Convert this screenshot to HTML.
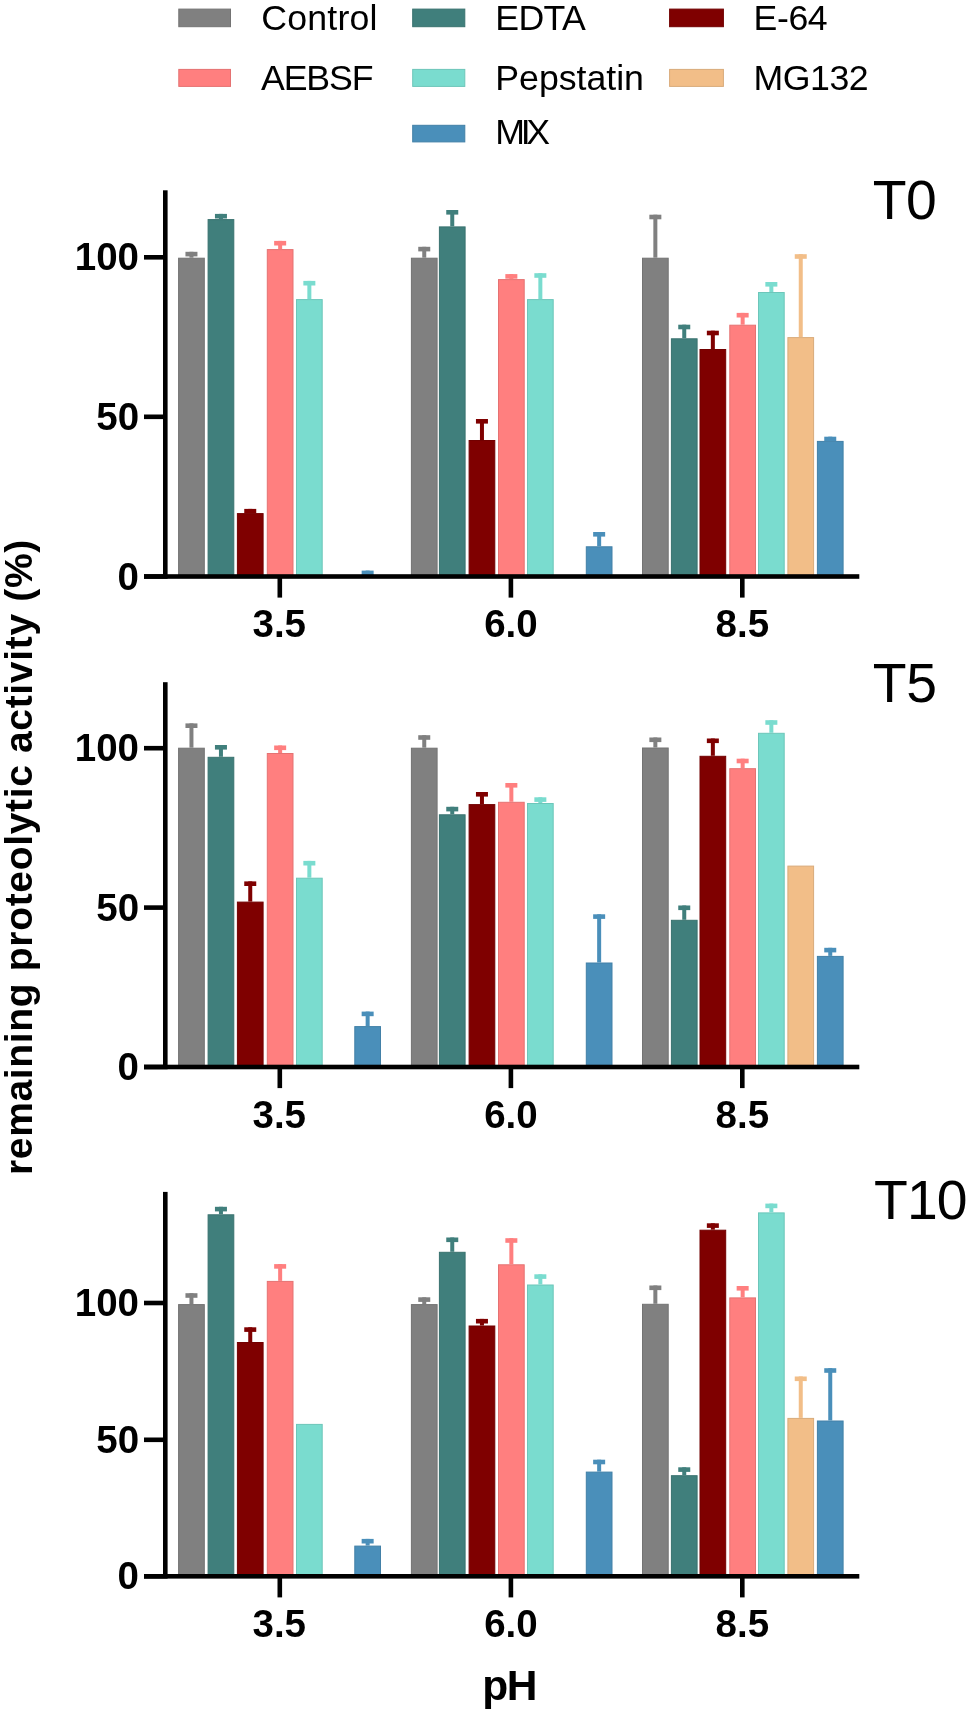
<!DOCTYPE html>
<html><head><meta charset="utf-8"><style>
html,body{margin:0;padding:0;background:#fff;}
body{width:968px;height:1713px;overflow:hidden;}
svg{display:block;will-change:transform;}
text{font-family:"Liberation Sans",sans-serif;fill:#000;}
</style></head><body>
<svg width="968" height="1713" viewBox="0 0 968 1713">
<rect x="178.6" y="258.2" width="25.7" height="318.8" fill="#808080" stroke="#737373" stroke-width="1"/>
<rect x="189.45" y="251.8" width="4" height="5.9" fill="#808080"/>
<rect x="185.45" y="251.8" width="12" height="4.6" fill="#808080"/>
<rect x="208.1" y="219.6" width="25.7" height="357.4" fill="#407f7c" stroke="#39726f" stroke-width="1"/>
<rect x="218.95" y="213.9" width="4" height="5.2" fill="#407f7c"/>
<rect x="214.95" y="213.9" width="12" height="4.6" fill="#407f7c"/>
<rect x="237.4" y="513.6" width="25.7" height="63.4" fill="#7f0000" stroke="#720000" stroke-width="1"/>
<rect x="248.25" y="508.9" width="4" height="4.2" fill="#7f0000"/>
<rect x="244.25" y="508.9" width="12" height="4.6" fill="#7f0000"/>
<rect x="267.3" y="249.6" width="25.7" height="327.4" fill="#ff7f7f" stroke="#e57272" stroke-width="1"/>
<rect x="278.15" y="240.9" width="4" height="8.2" fill="#ff7f7f"/>
<rect x="274.15" y="240.9" width="12" height="4.6" fill="#ff7f7f"/>
<rect x="296.5" y="299.6" width="25.7" height="277.4" fill="#7adccf" stroke="#6dc6ba" stroke-width="1"/>
<rect x="307.35" y="280.9" width="4" height="18.2" fill="#7adccf"/>
<rect x="303.35" y="280.9" width="12" height="4.6" fill="#7adccf"/>
<rect x="365.65" y="570.6" width="4" height="5.9" fill="#4a8fba"/>
<rect x="361.65" y="570.6" width="12" height="4.6" fill="#4a8fba"/>
<rect x="411.4" y="258.2" width="25.7" height="318.8" fill="#808080" stroke="#737373" stroke-width="1"/>
<rect x="422.25" y="246.8" width="4" height="10.9" fill="#808080"/>
<rect x="418.25" y="246.8" width="12" height="4.6" fill="#808080"/>
<rect x="439.4" y="226.9" width="25.7" height="350.1" fill="#407f7c" stroke="#39726f" stroke-width="1"/>
<rect x="450.25" y="210" width="4" height="16.4" fill="#407f7c"/>
<rect x="446.25" y="210" width="12" height="4.6" fill="#407f7c"/>
<rect x="469.1" y="440.5" width="25.7" height="136.5" fill="#7f0000" stroke="#720000" stroke-width="1"/>
<rect x="479.95" y="419" width="4" height="21" fill="#7f0000"/>
<rect x="475.95" y="419" width="12" height="4.6" fill="#7f0000"/>
<rect x="498.5" y="279.6" width="25.7" height="297.4" fill="#ff7f7f" stroke="#e57272" stroke-width="1"/>
<rect x="509.35" y="274.1" width="4" height="5" fill="#ff7f7f"/>
<rect x="505.35" y="274.1" width="12" height="4.6" fill="#ff7f7f"/>
<rect x="527.5" y="299.6" width="25.7" height="277.4" fill="#7adccf" stroke="#6dc6ba" stroke-width="1"/>
<rect x="538.35" y="273.2" width="4" height="25.9" fill="#7adccf"/>
<rect x="534.35" y="273.2" width="12" height="4.6" fill="#7adccf"/>
<rect x="586.3" y="546.8" width="25.7" height="30.2" fill="#4a8fba" stroke="#4280a7" stroke-width="1"/>
<rect x="597.15" y="532" width="4" height="14.3" fill="#4a8fba"/>
<rect x="593.15" y="532" width="12" height="4.6" fill="#4a8fba"/>
<rect x="642.5" y="258.2" width="25.7" height="318.8" fill="#808080" stroke="#737373" stroke-width="1"/>
<rect x="653.35" y="214.7" width="4" height="43" fill="#808080"/>
<rect x="649.35" y="214.7" width="12" height="4.6" fill="#808080"/>
<rect x="671.4" y="338.8" width="25.7" height="238.2" fill="#407f7c" stroke="#39726f" stroke-width="1"/>
<rect x="682.25" y="324.7" width="4" height="13.6" fill="#407f7c"/>
<rect x="678.25" y="324.7" width="12" height="4.6" fill="#407f7c"/>
<rect x="700" y="349.5" width="25.7" height="227.5" fill="#7f0000" stroke="#720000" stroke-width="1"/>
<rect x="710.85" y="330.7" width="4" height="18.3" fill="#7f0000"/>
<rect x="706.85" y="330.7" width="12" height="4.6" fill="#7f0000"/>
<rect x="729.8" y="325.2" width="25.7" height="251.8" fill="#ff7f7f" stroke="#e57272" stroke-width="1"/>
<rect x="740.65" y="312.9" width="4" height="11.8" fill="#ff7f7f"/>
<rect x="736.65" y="312.9" width="12" height="4.6" fill="#ff7f7f"/>
<rect x="758.5" y="292.5" width="25.7" height="284.5" fill="#7adccf" stroke="#6dc6ba" stroke-width="1"/>
<rect x="769.35" y="282" width="4" height="10" fill="#7adccf"/>
<rect x="765.35" y="282" width="12" height="4.6" fill="#7adccf"/>
<rect x="787.9" y="337.6" width="25.7" height="239.4" fill="#f2be88" stroke="#d9ab7a" stroke-width="1"/>
<rect x="798.75" y="254.2" width="4" height="82.9" fill="#f2be88"/>
<rect x="794.75" y="254.2" width="12" height="4.6" fill="#f2be88"/>
<rect x="817.4" y="441.4" width="25.7" height="135.6" fill="#4a8fba" stroke="#4280a7" stroke-width="1"/>
<rect x="828.25" y="436.7" width="4" height="4.2" fill="#4a8fba"/>
<rect x="824.25" y="436.7" width="12" height="4.6" fill="#4a8fba"/>
<rect x="163" y="190.3" width="4.6" height="388.5" fill="#000"/>
<rect x="144" y="574.2" width="715.3" height="4.6" fill="#000"/>
<rect x="144" y="255" width="19" height="4.6" fill="#000"/>
<text x="74.75" y="270.3" style="font-size:38.5px;font-weight:bold;">100</text>
<rect x="144" y="414.5" width="19" height="4.6" fill="#000"/>
<text x="96.25" y="429.8" style="font-size:38.5px;font-weight:bold;">50</text>
<rect x="144" y="574.2" width="19" height="4.6" fill="#000"/>
<text x="117.62" y="589.5" style="font-size:38.5px;font-weight:bold;">0</text>
<rect x="277.5" y="576.5" width="4.6" height="21.1" fill="#000"/>
<text x="252.51" y="637.1" style="font-size:38.5px;font-weight:bold;">3.5</text>
<rect x="508.6" y="576.5" width="4.6" height="21.1" fill="#000"/>
<text x="484.21" y="637.1" style="font-size:38.5px;font-weight:bold;">6.0</text>
<rect x="740" y="576.5" width="4.6" height="21.1" fill="#000"/>
<text x="715.62" y="637.1" style="font-size:38.5px;font-weight:bold;">8.5</text>
<text x="872.65" y="218.7" style="font-size:55.3px;letter-spacing:-0.325px;">T0</text>
<rect x="178.6" y="748.2" width="25.7" height="319.3" fill="#808080" stroke="#737373" stroke-width="1"/>
<rect x="189.45" y="723.4" width="4" height="24.3" fill="#808080"/>
<rect x="185.45" y="723.4" width="12" height="4.6" fill="#808080"/>
<rect x="208.1" y="757.3" width="25.7" height="310.2" fill="#407f7c" stroke="#39726f" stroke-width="1"/>
<rect x="218.95" y="745" width="4" height="11.8" fill="#407f7c"/>
<rect x="214.95" y="745" width="12" height="4.6" fill="#407f7c"/>
<rect x="237.4" y="902.1" width="25.7" height="165.4" fill="#7f0000" stroke="#720000" stroke-width="1"/>
<rect x="248.25" y="881.4" width="4" height="20.2" fill="#7f0000"/>
<rect x="244.25" y="881.4" width="12" height="4.6" fill="#7f0000"/>
<rect x="267.3" y="753.5" width="25.7" height="314" fill="#ff7f7f" stroke="#e57272" stroke-width="1"/>
<rect x="278.15" y="745.5" width="4" height="7.5" fill="#ff7f7f"/>
<rect x="274.15" y="745.5" width="12" height="4.6" fill="#ff7f7f"/>
<rect x="296.5" y="878.2" width="25.7" height="189.3" fill="#7adccf" stroke="#6dc6ba" stroke-width="1"/>
<rect x="307.35" y="860.9" width="4" height="16.8" fill="#7adccf"/>
<rect x="303.35" y="860.9" width="12" height="4.6" fill="#7adccf"/>
<rect x="354.8" y="1026.6" width="25.7" height="40.9" fill="#4a8fba" stroke="#4280a7" stroke-width="1"/>
<rect x="365.65" y="1011.6" width="4" height="14.5" fill="#4a8fba"/>
<rect x="361.65" y="1011.6" width="12" height="4.6" fill="#4a8fba"/>
<rect x="411.4" y="748.2" width="25.7" height="319.3" fill="#808080" stroke="#737373" stroke-width="1"/>
<rect x="422.25" y="735.2" width="4" height="12.5" fill="#808080"/>
<rect x="418.25" y="735.2" width="12" height="4.6" fill="#808080"/>
<rect x="439.4" y="814.8" width="25.7" height="252.7" fill="#407f7c" stroke="#39726f" stroke-width="1"/>
<rect x="450.25" y="806.8" width="4" height="7.5" fill="#407f7c"/>
<rect x="446.25" y="806.8" width="12" height="4.6" fill="#407f7c"/>
<rect x="469.1" y="804.6" width="25.7" height="262.9" fill="#7f0000" stroke="#720000" stroke-width="1"/>
<rect x="479.95" y="792" width="4" height="12.1" fill="#7f0000"/>
<rect x="475.95" y="792" width="12" height="4.6" fill="#7f0000"/>
<rect x="498.5" y="802.3" width="25.7" height="265.2" fill="#ff7f7f" stroke="#e57272" stroke-width="1"/>
<rect x="509.35" y="783" width="4" height="18.8" fill="#ff7f7f"/>
<rect x="505.35" y="783" width="12" height="4.6" fill="#ff7f7f"/>
<rect x="527.5" y="803.5" width="25.7" height="264" fill="#7adccf" stroke="#6dc6ba" stroke-width="1"/>
<rect x="538.35" y="797.3" width="4" height="5.7" fill="#7adccf"/>
<rect x="534.35" y="797.3" width="12" height="4.6" fill="#7adccf"/>
<rect x="586.3" y="963" width="25.7" height="104.5" fill="#4a8fba" stroke="#4280a7" stroke-width="1"/>
<rect x="597.15" y="914.3" width="4" height="48.2" fill="#4a8fba"/>
<rect x="593.15" y="914.3" width="12" height="4.6" fill="#4a8fba"/>
<rect x="642.5" y="748" width="25.7" height="319.5" fill="#808080" stroke="#737373" stroke-width="1"/>
<rect x="653.35" y="737.5" width="4" height="10" fill="#808080"/>
<rect x="649.35" y="737.5" width="12" height="4.6" fill="#808080"/>
<rect x="671.4" y="920.3" width="25.7" height="147.2" fill="#407f7c" stroke="#39726f" stroke-width="1"/>
<rect x="682.25" y="905.5" width="4" height="14.3" fill="#407f7c"/>
<rect x="678.25" y="905.5" width="12" height="4.6" fill="#407f7c"/>
<rect x="700" y="756.3" width="25.7" height="311.2" fill="#7f0000" stroke="#720000" stroke-width="1"/>
<rect x="710.85" y="738.5" width="4" height="17.3" fill="#7f0000"/>
<rect x="706.85" y="738.5" width="12" height="4.6" fill="#7f0000"/>
<rect x="729.8" y="768.7" width="25.7" height="298.8" fill="#ff7f7f" stroke="#e57272" stroke-width="1"/>
<rect x="740.65" y="758.7" width="4" height="9.5" fill="#ff7f7f"/>
<rect x="736.65" y="758.7" width="12" height="4.6" fill="#ff7f7f"/>
<rect x="758.5" y="733.3" width="25.7" height="334.2" fill="#7adccf" stroke="#6dc6ba" stroke-width="1"/>
<rect x="769.35" y="720.2" width="4" height="12.6" fill="#7adccf"/>
<rect x="765.35" y="720.2" width="12" height="4.6" fill="#7adccf"/>
<rect x="787.9" y="866.1" width="25.7" height="201.4" fill="#f2be88" stroke="#d9ab7a" stroke-width="1"/>
<rect x="817.4" y="956.4" width="25.7" height="111.1" fill="#4a8fba" stroke="#4280a7" stroke-width="1"/>
<rect x="828.25" y="947.8" width="4" height="8.1" fill="#4a8fba"/>
<rect x="824.25" y="947.8" width="12" height="4.6" fill="#4a8fba"/>
<rect x="163" y="682.2" width="4.6" height="387.1" fill="#000"/>
<rect x="144" y="1064.7" width="715.3" height="4.6" fill="#000"/>
<rect x="144" y="745.9" width="19" height="4.6" fill="#000"/>
<text x="74.75" y="761.2" style="font-size:38.5px;font-weight:bold;">100</text>
<rect x="144" y="905.3" width="19" height="4.6" fill="#000"/>
<text x="96.25" y="920.6" style="font-size:38.5px;font-weight:bold;">50</text>
<rect x="144" y="1064.7" width="19" height="4.6" fill="#000"/>
<text x="117.62" y="1080" style="font-size:38.5px;font-weight:bold;">0</text>
<rect x="277.5" y="1067" width="4.6" height="21.1" fill="#000"/>
<text x="252.51" y="1127.6" style="font-size:38.5px;font-weight:bold;">3.5</text>
<rect x="508.6" y="1067" width="4.6" height="21.1" fill="#000"/>
<text x="484.21" y="1127.6" style="font-size:38.5px;font-weight:bold;">6.0</text>
<rect x="740" y="1067" width="4.6" height="21.1" fill="#000"/>
<text x="715.62" y="1127.6" style="font-size:38.5px;font-weight:bold;">8.5</text>
<text x="872.65" y="702" style="font-size:55.3px;letter-spacing:-0.075px;">T5</text>
<rect x="178.6" y="1304.6" width="25.7" height="272.2" fill="#808080" stroke="#737373" stroke-width="1"/>
<rect x="189.45" y="1293.2" width="4" height="10.9" fill="#808080"/>
<rect x="185.45" y="1293.2" width="12" height="4.6" fill="#808080"/>
<rect x="208.1" y="1214.8" width="25.7" height="362" fill="#407f7c" stroke="#39726f" stroke-width="1"/>
<rect x="218.95" y="1206.8" width="4" height="7.5" fill="#407f7c"/>
<rect x="214.95" y="1206.8" width="12" height="4.6" fill="#407f7c"/>
<rect x="237.4" y="1342.5" width="25.7" height="234.3" fill="#7f0000" stroke="#720000" stroke-width="1"/>
<rect x="248.25" y="1327.3" width="4" height="14.7" fill="#7f0000"/>
<rect x="244.25" y="1327.3" width="12" height="4.6" fill="#7f0000"/>
<rect x="267.3" y="1281.4" width="25.7" height="295.4" fill="#ff7f7f" stroke="#e57272" stroke-width="1"/>
<rect x="278.15" y="1264.1" width="4" height="16.8" fill="#ff7f7f"/>
<rect x="274.15" y="1264.1" width="12" height="4.6" fill="#ff7f7f"/>
<rect x="296.5" y="1424.4" width="25.7" height="152.4" fill="#7adccf" stroke="#6dc6ba" stroke-width="1"/>
<rect x="354.8" y="1546.1" width="25.7" height="30.7" fill="#4a8fba" stroke="#4280a7" stroke-width="1"/>
<rect x="365.65" y="1538.9" width="4" height="6.7" fill="#4a8fba"/>
<rect x="361.65" y="1538.9" width="12" height="4.6" fill="#4a8fba"/>
<rect x="411.4" y="1304.6" width="25.7" height="272.2" fill="#808080" stroke="#737373" stroke-width="1"/>
<rect x="422.25" y="1297.3" width="4" height="6.8" fill="#808080"/>
<rect x="418.25" y="1297.3" width="12" height="4.6" fill="#808080"/>
<rect x="439.4" y="1252.3" width="25.7" height="324.5" fill="#407f7c" stroke="#39726f" stroke-width="1"/>
<rect x="450.25" y="1237.5" width="4" height="14.3" fill="#407f7c"/>
<rect x="446.25" y="1237.5" width="12" height="4.6" fill="#407f7c"/>
<rect x="469.1" y="1326" width="25.7" height="250.8" fill="#7f0000" stroke="#720000" stroke-width="1"/>
<rect x="479.95" y="1318.9" width="4" height="6.6" fill="#7f0000"/>
<rect x="475.95" y="1318.9" width="12" height="4.6" fill="#7f0000"/>
<rect x="498.5" y="1264.8" width="25.7" height="312" fill="#ff7f7f" stroke="#e57272" stroke-width="1"/>
<rect x="509.35" y="1238.2" width="4" height="26.1" fill="#ff7f7f"/>
<rect x="505.35" y="1238.2" width="12" height="4.6" fill="#ff7f7f"/>
<rect x="527.5" y="1285" width="25.7" height="291.8" fill="#7adccf" stroke="#6dc6ba" stroke-width="1"/>
<rect x="538.35" y="1274.3" width="4" height="10.2" fill="#7adccf"/>
<rect x="534.35" y="1274.3" width="12" height="4.6" fill="#7adccf"/>
<rect x="586.3" y="1472.1" width="25.7" height="104.7" fill="#4a8fba" stroke="#4280a7" stroke-width="1"/>
<rect x="597.15" y="1459.7" width="4" height="11.9" fill="#4a8fba"/>
<rect x="593.15" y="1459.7" width="12" height="4.6" fill="#4a8fba"/>
<rect x="642.5" y="1304.3" width="25.7" height="272.5" fill="#808080" stroke="#737373" stroke-width="1"/>
<rect x="653.35" y="1285.5" width="4" height="18.3" fill="#808080"/>
<rect x="649.35" y="1285.5" width="12" height="4.6" fill="#808080"/>
<rect x="671.4" y="1475.7" width="25.7" height="101.1" fill="#407f7c" stroke="#39726f" stroke-width="1"/>
<rect x="682.25" y="1467.3" width="4" height="7.9" fill="#407f7c"/>
<rect x="678.25" y="1467.3" width="12" height="4.6" fill="#407f7c"/>
<rect x="700" y="1230.2" width="25.7" height="346.6" fill="#7f0000" stroke="#720000" stroke-width="1"/>
<rect x="710.85" y="1223.3" width="4" height="6.4" fill="#7f0000"/>
<rect x="706.85" y="1223.3" width="12" height="4.6" fill="#7f0000"/>
<rect x="729.8" y="1297.9" width="25.7" height="278.9" fill="#ff7f7f" stroke="#e57272" stroke-width="1"/>
<rect x="740.65" y="1286" width="4" height="11.4" fill="#ff7f7f"/>
<rect x="736.65" y="1286" width="12" height="4.6" fill="#ff7f7f"/>
<rect x="758.5" y="1212.9" width="25.7" height="363.9" fill="#7adccf" stroke="#6dc6ba" stroke-width="1"/>
<rect x="769.35" y="1203.6" width="4" height="8.8" fill="#7adccf"/>
<rect x="765.35" y="1203.6" width="12" height="4.6" fill="#7adccf"/>
<rect x="787.9" y="1418.4" width="25.7" height="158.4" fill="#f2be88" stroke="#d9ab7a" stroke-width="1"/>
<rect x="798.75" y="1376.5" width="4" height="41.4" fill="#f2be88"/>
<rect x="794.75" y="1376.5" width="12" height="4.6" fill="#f2be88"/>
<rect x="817.4" y="1421" width="25.7" height="155.8" fill="#4a8fba" stroke="#4280a7" stroke-width="1"/>
<rect x="828.25" y="1368.2" width="4" height="52.3" fill="#4a8fba"/>
<rect x="824.25" y="1368.2" width="12" height="4.6" fill="#4a8fba"/>
<rect x="163" y="1191.9" width="4.6" height="386.7" fill="#000"/>
<rect x="144" y="1574" width="715.3" height="4.6" fill="#000"/>
<rect x="144" y="1300.7" width="19" height="4.6" fill="#000"/>
<text x="74.75" y="1316" style="font-size:38.5px;font-weight:bold;">100</text>
<rect x="144" y="1437.5" width="19" height="4.6" fill="#000"/>
<text x="96.25" y="1452.8" style="font-size:38.5px;font-weight:bold;">50</text>
<rect x="144" y="1574" width="19" height="4.6" fill="#000"/>
<text x="117.62" y="1589.3" style="font-size:38.5px;font-weight:bold;">0</text>
<rect x="277.5" y="1576.3" width="4.6" height="21.1" fill="#000"/>
<text x="252.51" y="1636.9" style="font-size:38.5px;font-weight:bold;">3.5</text>
<rect x="508.6" y="1576.3" width="4.6" height="21.1" fill="#000"/>
<text x="484.21" y="1636.9" style="font-size:38.5px;font-weight:bold;">6.0</text>
<rect x="740" y="1576.3" width="4.6" height="21.1" fill="#000"/>
<text x="715.62" y="1636.9" style="font-size:38.5px;font-weight:bold;">8.5</text>
<text x="874.05" y="1218.8" style="font-size:55.3px;letter-spacing:-0.888px;">T10</text>
<rect x="178.8" y="9.1" width="51.7" height="17.6" fill="#808080" stroke="#737373" stroke-width="1"/>
<text x="261.25" y="29.8" style="font-size:35.7px;letter-spacing:0.196px;">Control</text>
<rect x="412.7" y="9.1" width="52.1" height="17.6" fill="#407f7c" stroke="#39726f" stroke-width="1"/>
<text x="495.32" y="29.8" style="font-size:35.7px;letter-spacing:-0.658px;">EDTA</text>
<rect x="669.6" y="9.1" width="53.8" height="17.6" fill="#7f0000" stroke="#720000" stroke-width="1"/>
<text x="753.62" y="29.8" style="font-size:35.7px;letter-spacing:-0.458px;">E-64</text>
<rect x="178.8" y="69.4" width="51.7" height="17" fill="#ff7f7f" stroke="#e57272" stroke-width="1"/>
<text x="260.98" y="90" style="font-size:35.7px;letter-spacing:-1.113px;">AEBSF</text>
<rect x="412.7" y="69.4" width="52.1" height="17" fill="#7adccf" stroke="#6dc6ba" stroke-width="1"/>
<text x="495.32" y="90" style="font-size:35.7px;letter-spacing:-0.022px;">Pepstatin</text>
<rect x="669.6" y="69.4" width="53.8" height="17" fill="#f2be88" stroke="#d9ab7a" stroke-width="1"/>
<text x="753.62" y="90" style="font-size:35.7px;letter-spacing:-0.506px;">MG132</text>
<rect x="412.7" y="125.3" width="52.1" height="16.6" fill="#4a8fba" stroke="#4280a7" stroke-width="1"/>
<text x="495.32" y="144.4" style="font-size:35.7px;letter-spacing:-4.325px;">MIX</text>
<text x="482.35" y="1700.4" style="font-size:42.5px;font-weight:bold;letter-spacing:-1.525px;">pH</text>
<text transform="translate(32.2,1175.03) rotate(-90)" style="font-size:39px;font-weight:bold;letter-spacing:0.665px;">remaining proteolytic activity (%)</text>
</svg>
</body></html>
